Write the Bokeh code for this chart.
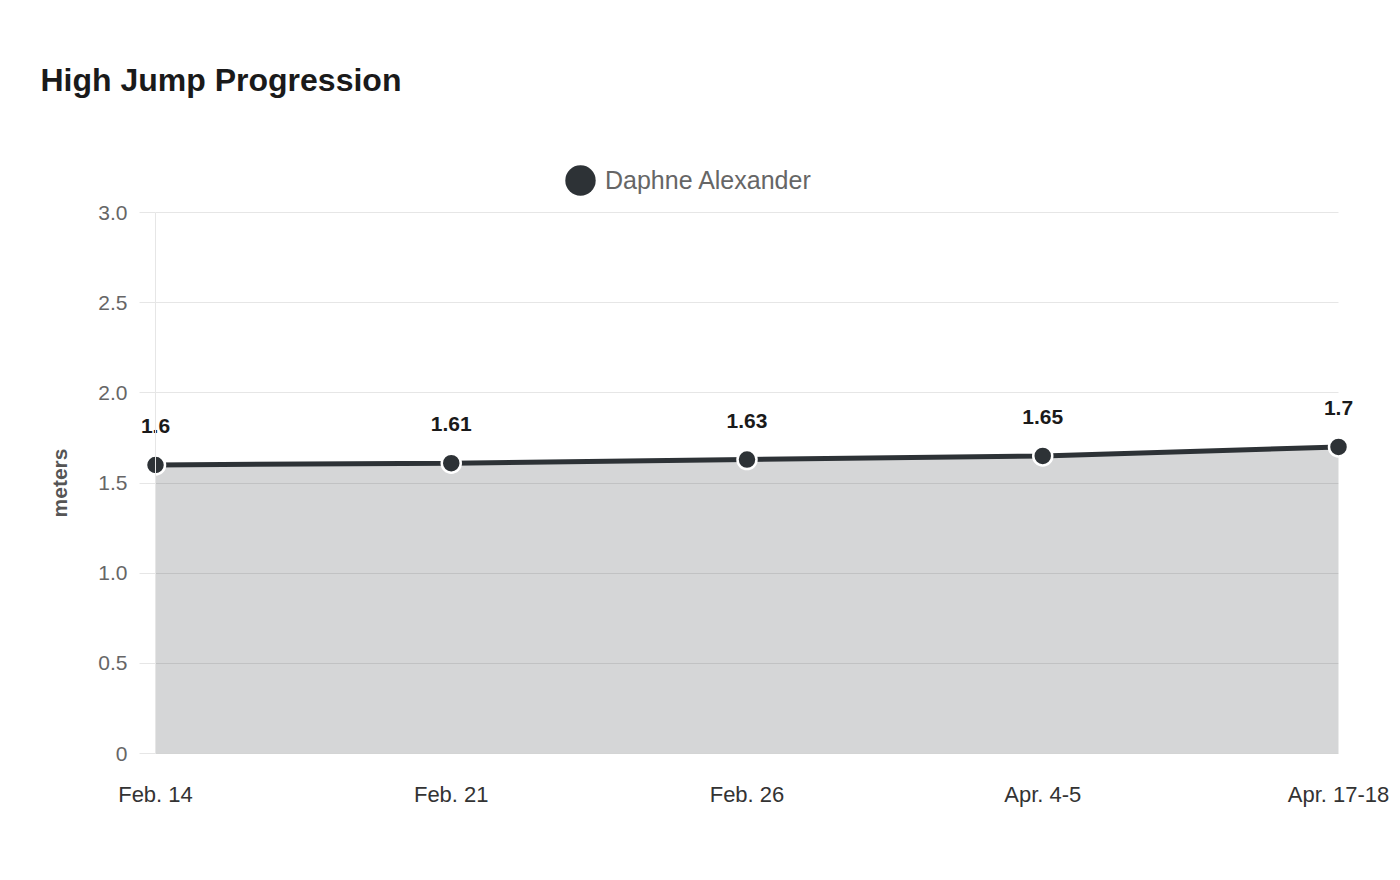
from bokeh.plotting import figure
from bokeh.models import (ColumnDataSource, Range1d, FixedTicker, Legend, LegendItem, Label, Grid)
from bokeh.core.properties import value
from bokeh.embed import file_html
from bokeh.resources import INLINE

# ---- data ----
categories = ["Feb. 14", "Feb. 21", "Feb. 26", "Apr. 4-5", "Apr. 17-18"]
heights = [1.6, 1.61, 1.63, 1.65, 1.7]
series_name = "Daphne Alexander"
y_ticks = [0, 0.5, 1.0, 1.5, 2.0, 2.5, 3.0]
y_tick_labels = ["0", "0.5", "1.0", "1.5", "2.0", "2.5", "3.0"]
title_text = "High Jump Progression"
y_label = "meters"

FONT = "Liberation Sans"
LINE = "#2d3236"

# ---- layout (pixels) ----
W, H = 1400, 880
PL, PR, PT, PB = 155, 1338, 212, 753   # plot area edges on the canvas

xs = list(range(len(categories)))
x0, x1 = xs[0], xs[-1]
y0, y1 = y_ticks[0], y_ticks[-1]
ux = (x1 - x0) / (PR - PL)
uy = (y1 - y0) / (PB - PT)
x_range = Range1d(x0 - PL * ux, x1 + (W - PR) * ux)
y_range = Range1d(y0 - (H - PB) * uy, y1 + PT * uy)

src = ColumnDataSource(dict(x=xs, y=heights, zero=[0] * len(xs),
                            lbl=[str(h) for h in heights]))

p = figure(width=W, height=H, output_backend="svg", toolbar_location=None,
           x_range=x_range, y_range=y_range,
           min_border=0, min_border_left=0, min_border_right=0,
           min_border_top=0, min_border_bottom=0)
p.outline_line_color = None
p.background_fill_color = "white"
p.border_fill_color = "white"

# grid
p.xgrid.grid_line_color = None
p.ygrid.ticker = FixedTicker(ticks=y_ticks)
if "cross_bounds" in Grid.properties():
    p.ygrid.grid_line_color = "#e6e6e6"
    p.ygrid.grid_line_width = 1
    p.ygrid.cross_bounds = (x0, x1)
else:
    p.ygrid.grid_line_color = None
    p.segment(x0=[x0] * len(y_ticks), x1=[x1] * len(y_ticks), y0=y_ticks, y1=y_ticks,
              line_color="#e6e6e6", line_width=1)

# y axis (fixed at x = first category)
p.yaxis.fixed_location = x0
p.yaxis.bounds = (y0, y1)
p.yaxis.ticker = FixedTicker(ticks=y_ticks)
p.yaxis.major_label_overrides = {t: l for t, l in zip(y_ticks, y_tick_labels)}
p.yaxis.axis_line_color = "#e6e6e6"
p.yaxis.major_tick_in = 0
p.yaxis.major_tick_out = 16
p.yaxis.major_tick_line_color = "#e6e6e6"
p.yaxis.minor_tick_line_color = None
p.yaxis.major_label_standoff = 12
p.yaxis.major_label_text_font = FONT
p.yaxis.major_label_text_font_size = "21px"
p.yaxis.major_label_text_color = "#666666"
p.yaxis.axis_label = y_label
p.yaxis.axis_label_text_font = FONT
p.yaxis.axis_label_text_font_size = "21px"
p.yaxis.axis_label_text_font_style = "bold"
p.yaxis.axis_label_text_color = "#555555"
p.yaxis.axis_label_standoff = 24

# x axis (fixed at y = 0)
p.xaxis.fixed_location = y0
p.xaxis.ticker = FixedTicker(ticks=xs)
p.xaxis.major_label_overrides = {i: c for i, c in zip(xs, categories)}
p.xaxis.axis_line_color = None
p.xaxis.major_tick_line_color = None
p.xaxis.minor_tick_line_color = None
p.xaxis.major_label_standoff = 22
p.xaxis.major_label_text_font = FONT
p.xaxis.major_label_text_font_size = "22px"
p.xaxis.major_label_text_color = "#333333"

# area + line + markers
p.varea(x="x", y1="zero", y2="y", source=src, fill_color=LINE, fill_alpha=0.2)
p.line(x="x", y="y", source=src, line_color=LINE, line_width=5)
p.scatter(x="x", y="y", source=src, size=19, fill_color=LINE,
          line_color="white", line_width=2.5)

# data labels
p.text(x="x", y="y", text="lbl", source=src, text_font=value(FONT),
       text_font_size="21px", text_font_style="bold", text_color="#1a1a1a",
       text_align="center", text_baseline="middle", y_offset=-39)

# legend (legend-only glyph, not drawn in the plot)
nan = float("nan")
leg_r = p.ellipse(x=[nan], y=[nan], width=30, height=30, width_units="screen",
                  height_units="screen", fill_color=LINE, line_color=None)
BOX = 38
legend = Legend(items=[LegendItem(label=series_name, renderers=[leg_r])],
                location=(580 - BOX / 2, H - 180 - BOX / 2), orientation="horizontal",
                glyph_width=BOX, glyph_height=BOX, label_standoff=6,
                padding=0, margin=0, spacing=0,
                border_line_color=None, background_fill_alpha=0,
                label_text_font=FONT, label_text_font_size="25px",
                label_text_color="#666666")
p.add_layout(legend, "center")

# title
title = Label(x=40, y=H - 79, x_units="screen", y_units="screen",
              text=title_text, text_font=FONT, text_font_size="32px",
              text_font_style="bold", text_color="#1a1a1a",
              text_baseline="alphabetic")
p.add_layout(title)

open("out.html", "w").write(file_html(p, INLINE))
